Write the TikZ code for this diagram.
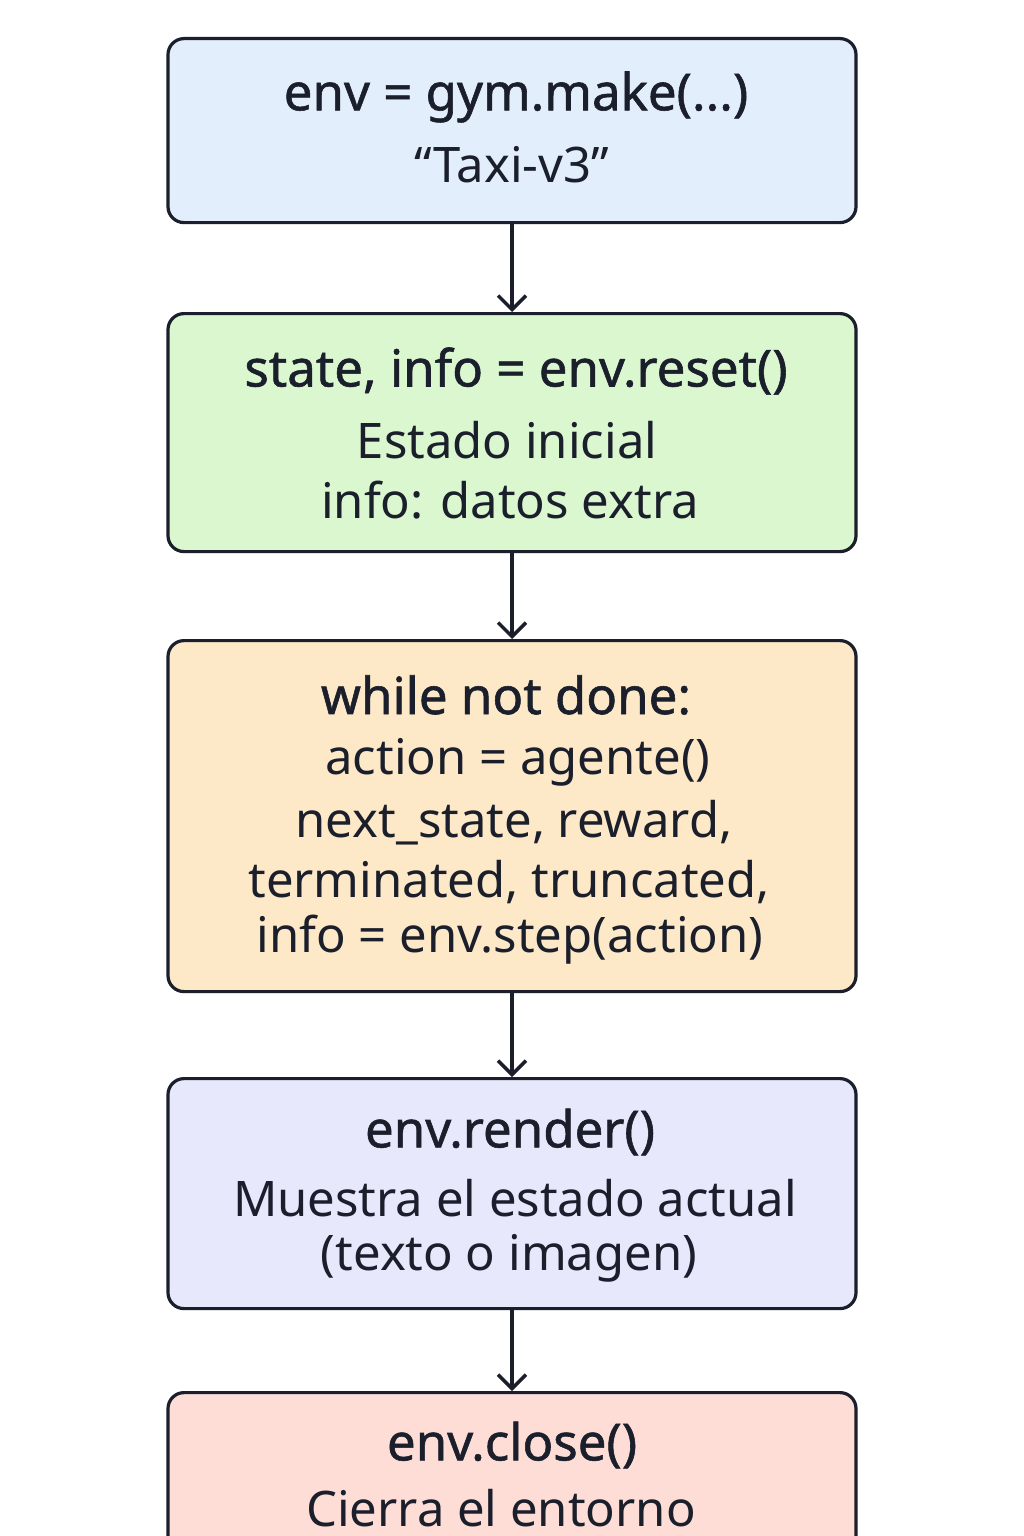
\documentclass[tikz,border=0pt]{standalone}
\usepackage{fontspec}
\setmainfont{Noto Sans}
\newfontfamily\medfont[FakeBold=1.1]{Noto Sans}
\usetikzlibrary{arrows.meta}
\definecolor{ink}{HTML}{1A1F2B}
\definecolor{cblue}{HTML}{E3EEFD}
\definecolor{cgreen}{HTML}{DAF7CF}
\definecolor{corange}{HTML}{FDE8C8}
\definecolor{cviolet}{HTML}{E8E8FC}
\definecolor{cpink}{HTML}{FDDDD6}
\tikzset{
  box/.style={draw=ink, line width=3.2pt, rounded corners=16pt, minimum width=688pt, inner sep=0pt, anchor=north},
  txt/.style={text=ink, font=\fontsize{49}{55}\selectfont, inner sep=0pt, anchor=center},
  head/.style={txt, font=\fontsize{51}{57}\selectfont\medfont},
  conn/.style={draw=ink, line width=3.6pt, -{Straight Barb[length=14pt,width=28pt,line width=3.4pt]}}
}
\begin{document}
\begin{tikzpicture}[x=1pt,y=-1pt]
\useasboundingbox (0,0) rectangle (1024,1536);
\clip (0,0) rectangle (1024,1536);
\fill[white] (0,0) rectangle (1024,1536);
\node[box, fill=cblue, minimum height=184pt] (b1) at (512,37) {};
\node[box, fill=cgreen, minimum height=238pt] (b2) at (512,312) {};
\node[box, fill=corange, minimum height=351pt] (b3) at (512,639) {};
\node[box, fill=cviolet, minimum height=230pt] (b4) at (512,1077) {};
\node[box, fill=cpink, minimum height=230pt] (b5) at (512,1391) {};

\node[head] (t11) at (516,97) {env = gym.make(...)};
\node[txt] (t12) at (512,165) {“Taxi-v3”};

\node[head] (t21) at (516,371) {state, info = env.reset()};
\node[txt] (t22) at (507,440) {Estado inicial};
\node[txt] (t23) at (510,500) {info: datos extra};

\node[head] (t31) at (506,695) {while not done:};
\node[txt] (t32) at (518,762) {action = agente()};
\node[txt] (t33) at (514,823) {next\_state, reward,};
\node[txt] (t34) at (509,882) {terminated, truncated,};
\node[txt] (t35) at (510,940) {info = env.step(action)};

\node[head] (t41) at (510,1132) {env.render()};
\node[txt] (t42) at (515,1198) {Muestra el estado actual};
\node[txt] (t43) at (509,1258) {(texto o imagen)};

\node[head] (t51) at (512,1445) {env.close()};
\node[txt] (t52) at (501,1508) {Cierra el entorno};

\draw[conn] (b1.south) -- (b2.north);
\draw[conn] (b2.south) -- (b3.north);
\draw[conn] (b3.south) -- (b4.north);
\draw[conn] (b4.south) -- (b5.north);
\end{tikzpicture}
\end{document}
